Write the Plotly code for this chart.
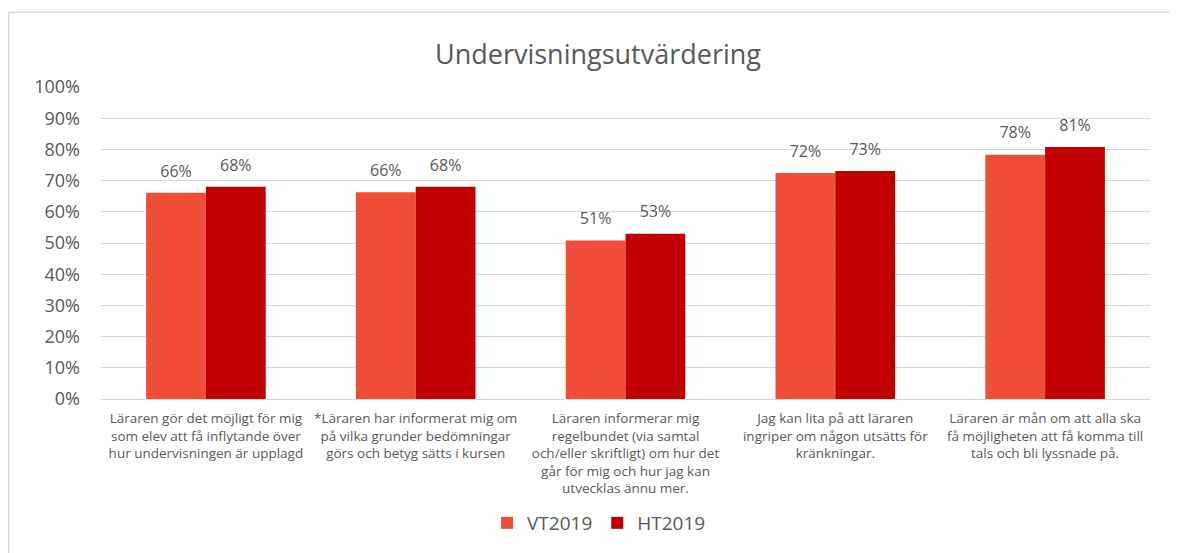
import plotly.graph_objects as go

categories = [
    "Läraren gör det möjligt för mig<br>som elev att få inflytande över<br>hur undervisningen är upplagd",
    "*Läraren har informerat mig om<br>på vilka grunder bedömningar<br>görs och betyg sätts i kursen",
    "Läraren informerar mig<br>regelbundet (via samtal<br>och/eller skriftligt) om hur det<br>går för mig och hur jag kan<br>utvecklas ännu mer.",
    "Jag kan lita på att läraren<br>ingriper om någon utsätts för<br>kränkningar.",
    "Läraren är mån om att alla ska<br>få möjligheten att få komma till<br>tals och bli lyssnade på.",
]
vt2019 = [0.661, 0.663, 0.508, 0.724, 0.783]
ht2019 = [0.680, 0.680, 0.530, 0.731, 0.808]
series_names = ["VT2019", "HT2019"]
series_colors = ["#F04E37", "#C00000"]
title_text = "Undervisningsutvärdering"

FONT = "'Open Sans', 'Noto Sans', sans-serif"
GREY = "#595959"
GRID = "#D9D9D9"

# page is rendered with an 8px body margin
OFF = 8
PW, PH = 1177, 553
W, H = PW - OFF, PH - OFF
L, R, T, B = 101, 1150, 87, 400          # plot area in page pixels
pw, ph = R - L, B - T

def px_x(x):
    return (x - L) / pw

def px_y(y):
    return (B - y) / ph

GAP = 0.43

fig = go.Figure()
for name, vals, col in zip(series_names, [vt2019, ht2019], series_colors):
    fig.add_trace(go.Bar(
        name=name, x=categories, y=vals, offsetgroup=name,
        marker=dict(color=col, line=dict(width=0)),
        hoverinfo="x+y",
    ))
# data labels, grouped like the bars
for name, vals in zip(series_names, [vt2019, ht2019]):
    fig.add_trace(go.Scatter(
        name=name, x=categories, y=vals, offsetgroup=name,
        mode="markers+text", text=[f"{v:.0%}" for v in vals],
        textposition="top center",
        marker=dict(size=18, opacity=0),
        textfont=dict(family=FONT, size=16, color=GREY),
        showlegend=False, hoverinfo="skip", cliponaxis=False,
    ))

fig.update_layout(
    width=W, height=H, autosize=False,
    margin=dict(l=L - OFF, r=PW - R, t=T - OFF, b=PH - B, pad=0),
    paper_bgcolor="white", plot_bgcolor="white",
    barmode="group", bargap=GAP, bargroupgap=0,
    scattermode="group", scattergap=GAP,
    font=dict(family=FONT, color=GREY),
    title=dict(text=title_text, x=(598 - OFF) / W, xanchor="center", xref="container",
               y=1 - (55 - OFF) / H, yanchor="middle", yref="container",
               font=dict(family=FONT, size=27, color=GREY)),
    legend=dict(orientation="h", x=px_x(599), xanchor="center",
                y=px_y(523), yanchor="middle",
                font=dict(family=FONT, size=19, color=GREY),
                itemwidth=30, traceorder="normal"),
    showlegend=True,
)
fig.update_xaxes(
    showgrid=False, showline=True, linecolor=GRID, linewidth=1,
    ticks="", tickangle=0, ticklabelstandoff=7,
    tickfont=dict(family=FONT, size=13.5, color=GREY),
)
fig.update_yaxes(
    range=[0, 1], dtick=0.1, tickformat=".0%",
    showgrid=True, gridcolor=GRID, gridwidth=1,
    zeroline=False, showline=False, ticks="",
    ticklabelstandoff=20,
    tickfont=dict(family=FONT, size=18, color=GREY),
)

# chart-area border (top and left edges visible)
fig.add_shape(type="line", xref="paper", yref="paper",
              x0=px_x(8.5), x1=px_x(PW + 20), y0=px_y(12), y1=px_y(12),
              line=dict(color=GRID, width=1.5))
fig.add_shape(type="line", xref="paper", yref="paper",
              x0=px_x(8.5), x1=px_x(8.5), y0=px_y(12), y1=px_y(PH + 20),
              line=dict(color=GRID, width=1.5))

fig.write_html("out.html")
